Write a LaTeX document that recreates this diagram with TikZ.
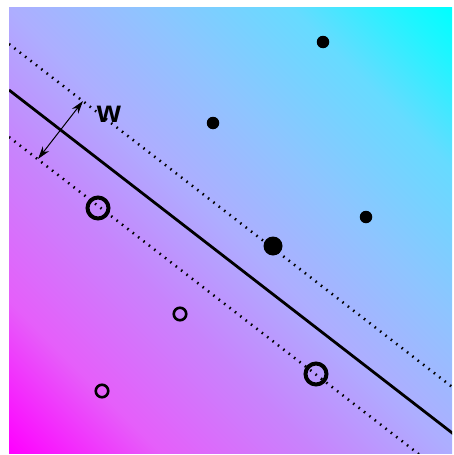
\documentclass[tikz,border=0pt]{standalone}
\usepackage{fontspec}
\setmainfont{Liberation Sans}
\usetikzlibrary{arrows.meta}
\pgfdeclarehorizontalshading{svmdiag}{100bp}{%
  rgb(0bp)=(1,0,1);
  rgb(14.6bp)=(1,0,1);
  rgb(26.6bp)=(0.90,0.37,0.98);
  rgb(39.4bp)=(0.78,0.52,0.99);
  rgb(50bp)=(0.68,0.68,1);
  rgb(60.6bp)=(0.56,0.77,1);
  rgb(72.7bp)=(0.40,0.86,1);
  rgb(81.2bp)=(0.12,0.96,1);
  rgb(85.4bp)=(0,1,1);
  rgb(100bp)=(0,1,1)}
\tikzset{
  solidline/.style={line width=2.8pt, line cap=butt},
  marginline/.style={line width=2.6pt, dash pattern=on 1.5pt off 5.3pt},
  filledpt/.style={circle, fill=black, inner sep=0pt, minimum size=#1},
  openpt/.style={circle, draw=black, inner sep=0pt, minimum size=#1},
}
\begin{document}
\begin{tikzpicture}[x=1pt,y=-1pt]
\useasboundingbox (0,0) rectangle (454,455);
\shade[shading=svmdiag, shading angle=45] (9,7) rectangle (452,453);
\begin{scope}
\clip (9,7) rectangle (452,453);
\coordinate (s1) at (9,90);
\coordinate (s2) at (460,439);
\coordinate (u1) at (9,44);
\coordinate (u2) at (460,393);
\coordinate (l1) at (9,137);
\coordinate (l2) at (460,486);
\draw[solidline] (s1) -- (s2);
\draw[marginline] (u1) -- (u2);
\draw[marginline] (l1) -- (l2);
\end{scope}
% filled points
\node[filledpt=12.5pt] (p1) at (323,42) {};
\node[filledpt=12.5pt] (p2) at (213,123) {};
\node[filledpt=12.5pt] (p3) at (366,217) {};
\node[filledpt=19pt] (p4) at (273,246) {};
% open points
\node[openpt=21pt, line width=4pt] (q1) at (98,208) {};
\node[openpt=21pt, line width=4pt] (q2) at (316,374) {};
\node[openpt=12.5pt, line width=2.6pt] (q3) at (180,314) {};
\node[openpt=12.5pt, line width=2.6pt] (q4) at (102,391) {};
% width arrow
\coordinate (a1) at (38,159);
\coordinate (a2) at (83,101);
\draw[line width=1pt, {Stealth[length=13pt,width=8pt]}-{Stealth[length=13pt,width=8pt]}] (a1) -- (a2);
\node[font=\bfseries\fontsize{31}{31}\selectfont, inner sep=0pt] (w) at (109,114) {w};
\end{tikzpicture}
\end{document}
